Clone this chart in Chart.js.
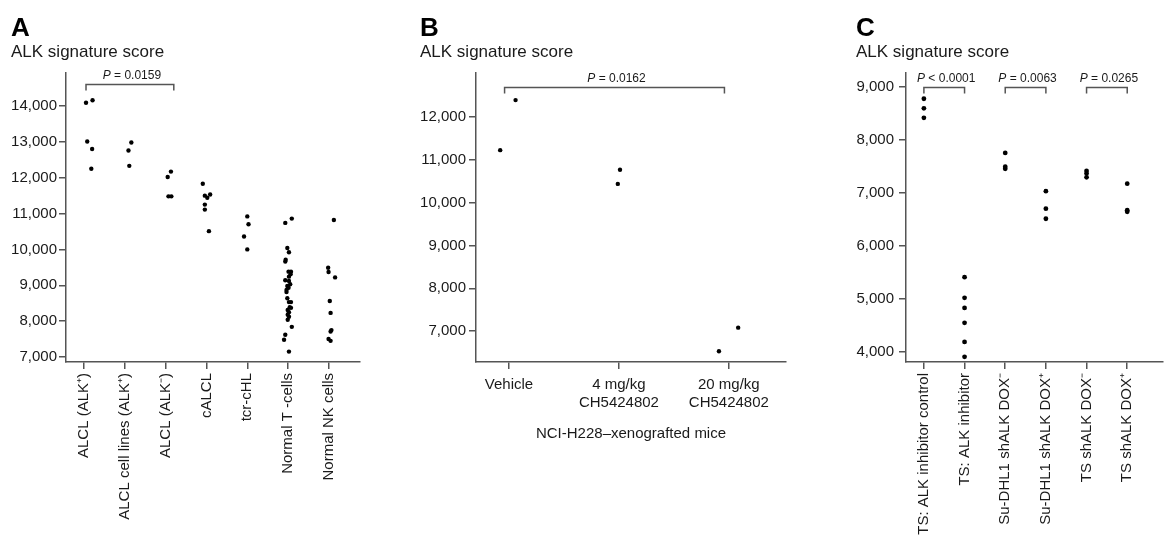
<!DOCTYPE html>
<html>
<head>
<meta charset="utf-8">
<script src="https://cdn.jsdelivr.net/npm/chart.js@4.4.0/dist/chart.umd.min.js"></script>
<style>
  html, body { margin: 0; padding: 0; background: #fff; }
  #wrap { position: relative; width: 1165px; height: 535px; overflow: hidden; }
  .panel { position: absolute; top: 0; height: 535px; }
  canvas { display: block; }
</style>
</head>
<body>
<div id="wrap">
  <div class="panel" style="left:0;width:390px"><canvas id="chartA" width="390" height="535"></canvas></div>
  <div class="panel" style="left:390px;width:400px"><canvas id="chartB" width="400" height="535"></canvas></div>
  <div class="panel" style="left:790px;width:375px"><canvas id="chartC" width="375" height="535"></canvas></div>
</div>
<script>
const FONT = '"Liberation Sans", Arial, Helvetica, sans-serif';
const INK = '#1a1a1a';
const AXIS = '#555';

// ---- Panel A: ALK signature score by tumour / cell type ----
const categoriesA = ['ALCL (ALK⁺)', 'ALCL cell lines (ALK⁺)', 'ALCL (ALK⁻)', 'cALCL', 'tcr-cHL', 'Normal T -cells', 'Normal NK cells'];
const yTicksA = [7000, 8000, 9000, 10000, 11000, 12000, 13000, 14000];
const alclPosA = [14090, 14160, 13010, 12800, 12250];
const alclPosJitterA = [0.05, 0.21, 0.08, 0.2, 0.18];
const cellLinesA = [12980, 12760, 12330];
const cellLinesJitterA = [0.16, 0.09, 0.11];
const alclNegA = [12170, 12020, 11480, 11480];
const alclNegJitterA = [0.13, 0.05, 0.07, 0.14];
const calclA = [11830, 11500, 11440, 11530, 11250, 11110, 10510];
const calclJitterA = [-0.09, -0.04, 0.02, 0.09, -0.04, -0.04, 0.06];
const tcrChlA = [10920, 10700, 10360, 10000];
const tcrChlJitterA = [0, 0.03, -0.08, 0];
const normalTA = [10740, 10860, 10040, 9920, 9710, 9660, 9380, 9380, 9310, 9240, 9140, 9120, 9030, 8980, 8930,
                  8870, 8810, 8640, 8530, 8530, 8390, 8370, 8310, 8250, 8180, 8120, 8040, 7840, 7620, 7480, 7150];
const normalTJitterA = [-0.07, 0.09, -0.02, 0.02, -0.06, -0.07, 0.01, 0.07, 0.06, 0.02, -0.07, 0.02, 0.05, -0.02, 0.01,
                        -0.04, -0.04, -0.02, 0.02, 0.07, 0.04, 0.07, -0.01, 0.02, -0.01, 0.02, -0.01, 0.09, -0.07, -0.1, 0.02];
const normalNkA = [10820, 9490, 9370, 9220, 8560, 8230, 7750, 7710, 7500, 7450];
const normalNkJitterA = [0.12, -0.02, -0.01, 0.15, 0.02, 0.04, 0.06, 0.04, -0.01, 0.04];
const pLabelsA = ['= 0.0159'];
const pSpansA = [[0.05, 2.2]];

// ---- Panel B: xenografted mice ----
const categoriesB = ['Vehicle', ['4 mg/kg', 'CH5424802'], ['20 mg/kg', 'CH5424802']];
const yTicksB = [7000, 8000, 9000, 10000, 11000, 12000];
const vehicleB = [11230, 12400];
const vehicleJitterB = [-0.08, 0.06];
const dose4B = [10770, 10440];
const dose4JitterB = [0.01, -0.01];
const dose20B = [6530, 7080];
const dose20JitterB = [-0.09, 0.085];
const pLabelsB = ['= 0.0162'];
const pSpansB = [[-0.04, 1.96]];

// ---- Panel C: inhibitor / shRNA experiments ----
const categoriesC = ['TS: ALK inhibitor control', 'TS: ALK inhibitor', 'Su-DHL1 shALK DOX⁻', 'Su-DHL1 shALK DOX⁺', 'TS shALK DOX⁻', 'TS shALK DOX⁺'];
const yTicksC = [4000, 5000, 6000, 7000, 8000, 9000];
const tsControlC = [8770, 8590, 8410];
const tsInhibitorC = [5410, 5020, 4830, 4550, 4190, 3910];
const suDoxNegC = [7750, 7490, 7450];
const suDoxPosC = [7030, 6700, 6510];
const tsDoxNegC = [7410, 7360, 7290];
const tsDoxPosC = [7170, 6670, 6640];
const pLabelsC = ['< 0.0001', '= 0.0063', '= 0.0265'];
const pSpansC = [[0, 1], [2, 3], [4, 5]];

function toPoints(groups, jitters) {
  return groups.flatMap((g, i) => g.map((y, k) => ({ x: i + (jitters ? jitters[i][k] : 0), y: y })));
}

const panelText = {
  id: 'panelText',
  afterDraw(chart, args, opts) {
    const ctx = chart.ctx;
    ctx.save();
    ctx.fillStyle = '#000';
    ctx.textAlign = 'left';
    ctx.textBaseline = 'alphabetic';
    ctx.font = 'bold 26px ' + FONT;
    ctx.fillText(opts.letter, opts.x, 36);
    ctx.font = '17px ' + FONT;
    ctx.fillStyle = INK;
    ctx.fillText(opts.heading, opts.x, 57);
    ctx.restore();
  }
};

const pBrackets = {
  id: 'pBrackets',
  afterDatasetsDraw(chart, args, opts) {
    const { ctx, scales: { x, y } } = chart;
    const yy = Math.round(y.getPixelForValue(opts.level)) + 0.5;
    ctx.save();
    ctx.strokeStyle = AXIS;
    ctx.lineWidth = 1.5;
    ctx.textBaseline = 'alphabetic';
    ctx.textAlign = 'left';
    ctx.fillStyle = INK;
    opts.spans.forEach((span, i) => {
      const x0 = x.getPixelForValue(span[0]);
      const x1 = x.getPixelForValue(span[1]);
      ctx.beginPath();
      ctx.moveTo(x0, yy + 6);
      ctx.lineTo(x0, yy);
      ctx.lineTo(x1, yy);
      ctx.lineTo(x1, yy + 6);
      ctx.stroke();
      const rest = ' ' + opts.labels[i];
      ctx.font = 'italic 12px ' + FONT;
      const wP = ctx.measureText('P').width;
      ctx.font = '12px ' + FONT;
      const wR = ctx.measureText(rest).width;
      const tx = (x0 + x1) / 2 - (wP + wR) / 2 + 2;
      ctx.font = 'italic 12px ' + FONT;
      ctx.fillText('P', tx, yy - 6);
      ctx.font = '12px ' + FONT;
      ctx.fillText(rest, tx + wP, yy - 6);
    });
    ctx.restore();
  }
};

function buildChart(id, o) {
  const gridOpts = { drawOnChartArea: false, drawTicks: true, tickLength: 7, tickColor: AXIS, tickWidth: 1.5, color: AXIS, lineWidth: 1.5 };
  return new Chart(document.getElementById(id), {
    type: 'scatter',
    data: {
      datasets: [{
        data: o.points,
        backgroundColor: '#000',
        borderColor: '#000',
        borderWidth: 0,
        pointRadius: o.radius,
        pointHoverRadius: o.radius
      }]
    },
    options: {
      responsive: false,
      animation: false,
      events: [],
      layout: { padding: { top: 73, right: o.padRight, left: 0, bottom: 0 } },
      plugins: {
        legend: { display: false },
        tooltip: { enabled: false },
        panelText: { letter: o.letter, heading: 'ALK signature score', x: o.textX },
        pBrackets: { labels: o.pLabels, spans: o.pSpans, level: o.pLevel }
      },
      scales: {
        x: {
          type: 'linear',
          min: o.xMin,
          max: o.xMax,
          afterBuildTicks: s => { s.ticks = o.categories.map((_, i) => ({ value: i })); },
          afterFit: s => { s.height = 173; },
          ticks: {
            autoSkip: false,
            maxRotation: o.rotate ? 90 : 0,
            minRotation: o.rotate ? 90 : 0,
            padding: o.rotate ? 4 : 7,
            color: INK,
            font: { family: FONT, size: 15 },
            callback: v => o.categories[v]
          },
          grid: gridOpts,
          border: { display: true, color: AXIS, width: 1.5 },
          title: o.xTitle ? {
            display: true,
            text: o.xTitle,
            color: INK,
            font: { family: FONT, size: 15 },
            padding: { top: 0, bottom: 92 }
          } : { display: false }
        },
        y: {
          type: 'linear',
          min: o.yMin,
          max: o.yMax,
          afterBuildTicks: s => { s.ticks = o.yTicks.map(v => ({ value: v })); },
          afterFit: s => { s.width = o.yWidth; },
          ticks: {
            padding: o.yPad,
            color: INK,
            font: { family: FONT, size: 15 },
            callback: v => v.toLocaleString('en-US')
          },
          grid: gridOpts,
          border: { display: true, color: AXIS, width: 1.5 }
        }
      }
    },
    plugins: [panelText, pBrackets]
  });
}

buildChart('chartA', {
  letter: 'A', textX: 11,
  categories: categoriesA, rotate: true,
  points: toPoints([alclPosA, cellLinesA, alclNegA, calclA, tcrChlA, normalTA, normalNkA],
                   [alclPosJitterA, cellLinesJitterA, alclNegJitterA, calclJitterA, tcrChlJitterA, normalTJitterA, normalNkJitterA]),
  radius: 2.2,
  xMin: -0.44, xMax: 6.76,
  yMin: 6860, yMax: 14920, yTicks: yTicksA,
  yWidth: 66, yPad: 2, padRight: 30,
  pLabels: pLabelsA, pSpans: pSpansA, pLevel: 14610
});

buildChart('chartB', {
  letter: 'B', textX: 30,
  categories: categoriesB, rotate: false,
  xTitle: 'NCI-H228–xenografted mice',
  points: toPoints([vehicleB, dose4B, dose20B], [vehicleJitterB, dose4JitterB, dose20JitterB]),
  radius: 2.2,
  xMin: -0.3, xMax: 2.52,
  yMin: 6277, yMax: 13033, yTicks: yTicksB,
  yWidth: 86, yPad: 3, padRight: 4,
  pLabels: pLabelsB, pSpans: pSpansB, pLevel: 12700
});

buildChart('chartC', {
  letter: 'C', textX: 66,
  categories: categoriesC, rotate: true,
  points: toPoints([tsControlC, tsInhibitorC, suDoxNegC, suDoxPosC, tsDoxNegC, tsDoxPosC]),
  radius: 2.4,
  xMin: -0.44, xMax: 5.87,
  yMin: 3812, yMax: 9255, yTicks: yTicksC,
  yWidth: 116, yPad: 5, padRight: 0,
  pLabels: pLabelsC, pSpans: pSpansC, pLevel: 9000
});
</script>
</body>
</html>
